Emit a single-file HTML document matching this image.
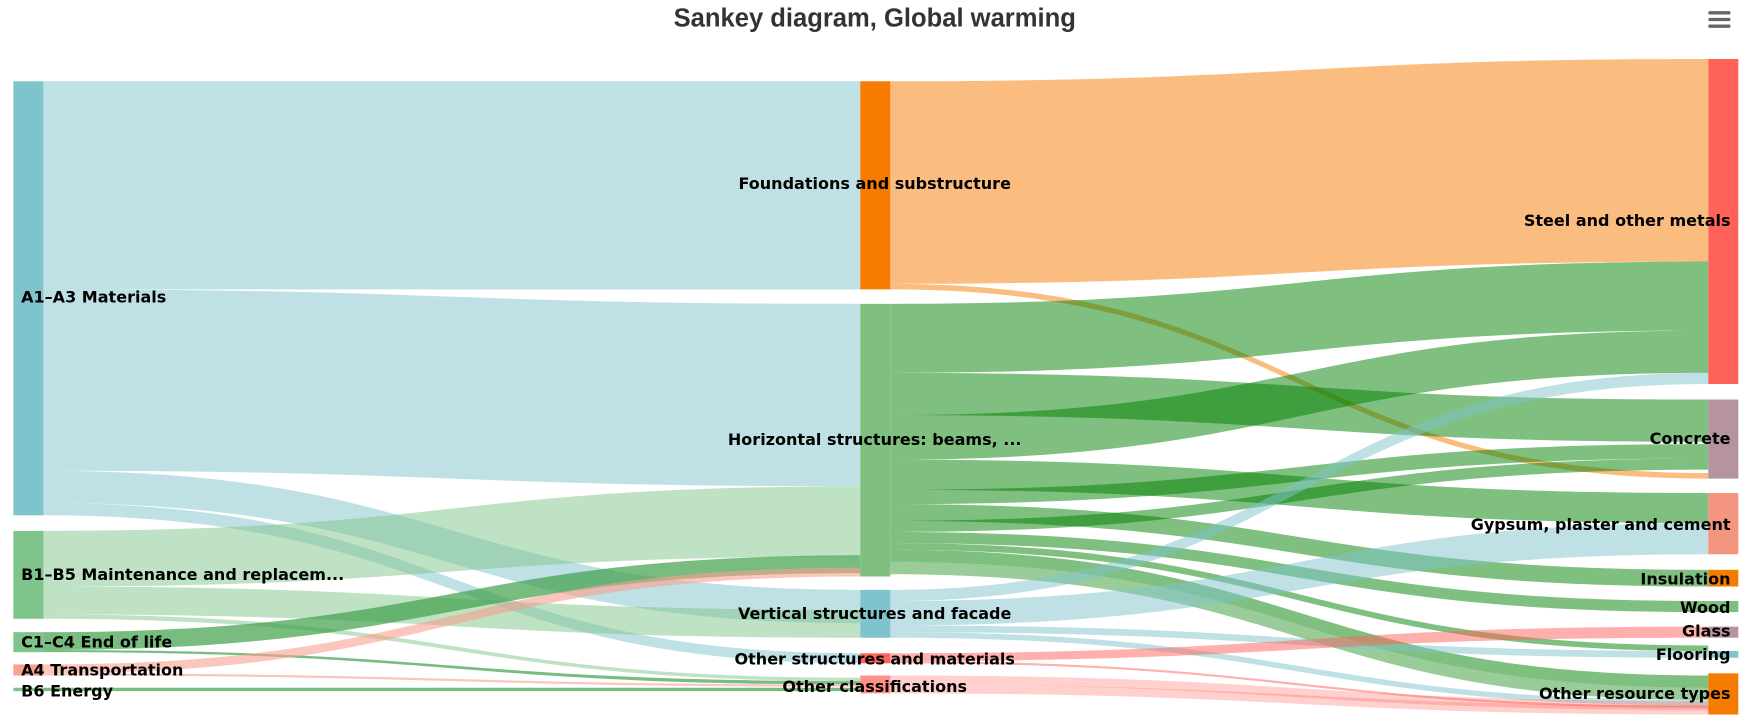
<!DOCTYPE html>
<html><head><meta charset="utf-8"><style>
html,body{margin:0;padding:0;background:#fff;width:1745px;height:725px;overflow:hidden}
svg{display:block}
.l{font-family:"DejaVu Sans","Liberation Sans",sans-serif;font-weight:bold;font-size:14.4px;fill:#000;}
</style></head><body>
<svg id="s" width="1745" height="725" viewBox="0 0 1568 651.4" xmlns="http://www.w3.org/2000/svg">
<g id="links"></g>
<g id="nodes">
<rect x="12" y="73" width="27" height="390" fill="#7fc4cc"/>
<rect x="12" y="477" width="27" height="79" fill="#7fc48a"/>
<rect x="12" y="568" width="27" height="18" fill="#7fc48a"/>
<rect x="12" y="597" width="27" height="10" fill="#f9a090"/>
<rect x="12" y="618" width="27" height="3" fill="#7fc48a"/>
<rect x="773" y="73" width="27" height="187" fill="#f57c00"/>
<rect x="773" y="273" width="27" height="245" fill="#7fbf7f"/>
<rect x="773" y="530" width="27" height="43" fill="#7fc4cc"/>
<rect x="773" y="587" width="27" height="9" fill="#ff6259"/>
<rect x="773" y="607" width="27" height="16" fill="#ff6259" opacity="0.7"/>
<rect x="1535" y="53" width="27" height="292" fill="#ff6259"/>
<rect x="1535" y="359" width="27" height="71" fill="#b5939f"/>
<rect x="1535" y="443" width="27" height="55" fill="#f4957f"/>
<rect x="1535" y="512" width="27" height="15" fill="#f57c00"/>
<rect x="1535" y="540" width="27" height="10" fill="#7fbf7f"/>
<rect x="1535" y="563" width="27" height="10" fill="#b5939f"/>
<rect x="1535" y="585" width="27" height="6" fill="#7fc4cc"/>
<rect x="1535" y="605" width="27" height="37" fill="#f57c00"/>
</g>
<text x="786" y="24" text-anchor="middle" font-family="Liberation Sans,sans-serif" font-weight="bold" font-size="23" fill="#333">Sankey diagram, Global warming</text>
<g fill="#666"><rect x="1535" y="10" width="20" height="3" rx="1.5"/><rect x="1535" y="16" width="20" height="3" rx="1.5"/><rect x="1535" y="22" width="20" height="3" rx="1.5"/></g>
<g class="l">
<text x="19" y="272">A1–A3 Materials</text>
<text x="19" y="521">B1–B5 Maintenance and replacem...</text>
<text x="19" y="582">C1–C4 End of life</text>
<text x="19" y="607">A4 Transportation</text>
<text x="19" y="626">B6 Energy</text>
<text x="786" y="170" text-anchor="middle">Foundations and substructure</text>
<text x="786" y="400" text-anchor="middle">Horizontal structures: beams, ...</text>
<text x="786" y="556" text-anchor="middle">Vertical structures and facade</text>
<text x="786" y="597" text-anchor="middle">Other structures and materials</text>
<text x="786" y="622" text-anchor="middle">Other classifications</text>
<text x="1555" y="203" text-anchor="end">Steel and other metals</text>
<text x="1555" y="399" text-anchor="end">Concrete</text>
<text x="1555" y="476" text-anchor="end">Gypsum, plaster and cement</text>
<text x="1555" y="525" text-anchor="end">Insulation</text>
<text x="1555" y="551" text-anchor="end">Wood</text>
<text x="1555" y="572" text-anchor="end">Glass</text>
<text x="1555" y="593" text-anchor="end">Flooring</text>
<text x="1555" y="628" text-anchor="end">Other resource types</text>
</g>
</svg>
<script>
var L=[
[39,73,260,773,73,260,'#7fc4cc',.5],
[39,260,423,773,273,437,'#7fc4cc',.5],
[39,423,452,773,530,560,'#7fc4cc',.5],
[39,452,463,773,587,596,'#7fc4cc',.5],
[39,477,527,773,437,500,'#7fc48a',.5],
[39,527,552,773,548,573,'#7fc48a',.5],
[39,552,556,773,609,612,'#7fc48a',.5],
[39,568,584,773,499,515,'#3fa04a',.7],
[39,584,586,773,612,615,'#3fa04a',.7],
[39,597,605,773,510,518,'#f9a090',.6],
[39,605,607,773,615,617,'#f9a090',.6],
[39,618,621,773,618,621,'#3fa04a',.7],
[800,73,255,1535,53,235,'#f57c00',.5],
[800,255,260,1535,425,430,'#f57c00',.5],
[800,273,335,1535,235,297,'#008000',.5],
[800,335,373,1535,359,397,'#008000',.5],
[800,373,413,1535,297,335,'#008000',.5],
[800,413,440,1535,443,470,'#008000',.5],
[800,440,453,1535,399,412,'#008000',.5],
[800,453,468,1535,512,527,'#008000',.5],
[800,468,478,1535,412,422,'#008000',.5],
[800,478,488,1535,540,550,'#008000',.5],
[800,488,494,1535,580,585,'#008000',.5],
[800,494,505,1535,607,618,'#008000',.5],
[800,505,516,1535,618,629,'#008000',.4],
[800,530,540,1535,335,345,'#7fc4cc',.5],
[800,540,562,1535,470,498,'#7fc4cc',.5],
[800,562,568,1535,585,591,'#7fc4cc',.5],
[800,568,573,1535,629,634,'#7fc4cc',.5],
[800,587,594,1535,563,573,'#ff6259',.5],
[800,594,596,1535,634,636,'#ff6259',.5],
[800,607,615,1535,630,638,'#ff6259',.3],
[800,615,623,1535,634,642,'#ff6259',.3]
];
var g=document.getElementById('links'),h='';
L.forEach(function(d){var m=(d[0]+d[3])/2;
h+='<path d="M'+d[0]+' '+d[1]+'C'+m+' '+d[1]+' '+m+' '+d[4]+' '+d[3]+' '+d[4]+'L'+d[3]+' '+d[5]+'C'+m+' '+d[5]+' '+m+' '+d[2]+' '+d[0]+' '+d[2]+'Z" fill="'+d[6]+'" fill-opacity="'+d[7]+'"/>';});
g.innerHTML=h;
</script>
</body></html>
